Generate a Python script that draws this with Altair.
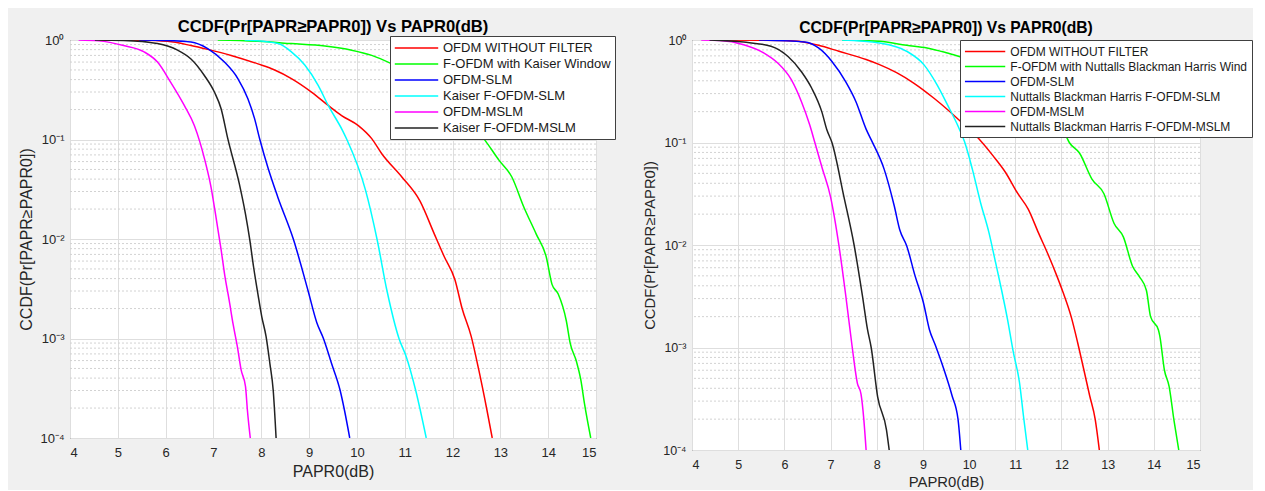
import altair as alt
import pandas as pd

FONT = "Liberation Sans"
TITLE = "CCDF(Pr[PAPR\u2265PAPR0]) Vs PAPR0(dB)"
X_TITLE = "PAPR0(dB)"
Y_TITLE = "CCDF(Pr[PAPR\u2265PAPR0])"

SERIES_K = ["OFDM WITHOUT FILTER", "F-OFDM with Kaiser Window", "OFDM-SLM",
            "Kaiser F-OFDM-SLM", "OFDM-MSLM", "Kaiser F-OFDM-MSLM"]
SERIES_N = ["OFDM WITHOUT FILTER", "F-OFDM with Nuttalls Blackman Harris Wind", "OFDM-SLM",
            "Nuttalls Blackman Harris F-OFDM-SLM", "OFDM-MSLM", "Nuttalls Blackman Harris F-OFDM-MSLM"]
COLORS = ["#ff0000", "#00ff00", "#0000ff", "#00ffff", "#ff00ff", "#222222"]

X_TICKS = [4, 5, 6, 7, 8, 9, 10, 11, 12, 13, 14, 15]
Y_MAJOR = [1e-4, 1e-3, 1e-2, 1e-1, 1]
Y_MINOR = [m * d for d in (1e-4, 1e-3, 1e-2, 1e-1) for m in range(2, 10)]

# ---------------- Kaiser panel (left) ----------------
K_RED_X = [4.6, 5.5, 6.04, 6.53, 6.88, 7.37, 7.93, 8.28, 8.63, 9.05, 9.4, 9.68, 10.03, 10.31,
           10.52, 10.94, 11.32, 11.62, 11.83, 12.05, 12.2, 12.39, 12.55, 12.72, 12.83]
K_RED_Y = [1.0, 0.995, 0.97, 0.88, 0.805, 0.70, 0.575, 0.50, 0.41, 0.30, 0.22, 0.174, 0.138, 0.102,
           0.072, 0.042, 0.024, 0.0112, 0.0066, 0.0039, 0.0020, 0.00105, 0.00048, 0.00019, 0.0001]
K_GREEN_X = [7.09, 7.93, 8.63, 9.33, 9.89, 10.31, 10.73, 11.2, 11.7, 12.2, 12.68, 12.97, 13.24,
             13.49, 13.75, 13.96, 14.08, 14.21, 14.38, 14.46, 14.59, 14.68, 14.76, 14.89]
K_GREEN_Y = [1.0, 0.97, 0.92, 0.87, 0.79, 0.70, 0.575, 0.44, 0.30, 0.18, 0.098, 0.062, 0.042,
             0.021, 0.0112, 0.0066, 0.0035, 0.0028, 0.0015, 0.0009, 0.00059, 0.00039, 0.00022, 0.0001]
K_BLUE_X = [5.44, 6.0, 6.53, 6.88, 7.23, 7.51, 7.72, 7.86, 7.97, 8.14, 8.35, 8.67, 8.98, 9.16,
            9.3, 9.47, 9.65, 9.74, 9.85]
K_BLUE_Y = [1.0, 0.99, 0.955, 0.82, 0.60, 0.41, 0.257, 0.162, 0.1, 0.052, 0.026, 0.01, 0.003,
            0.00145, 0.001, 0.00056, 0.0003, 0.00019, 0.0001]
K_CYAN_X = [7.65, 8.35, 8.63, 8.91, 9.19, 9.4, 9.7, 9.79, 10.18, 10.42, 10.63, 10.88, 11.03,
            11.23, 11.45]
K_CYAN_Y = [1.0, 0.92, 0.76, 0.56, 0.35, 0.22, 0.123, 0.1, 0.031, 0.01, 0.003, 0.001, 0.00066,
            0.0003, 0.0001]
K_MAG_X = [4.18, 4.6, 5.12, 5.55, 5.83, 6.1, 6.39, 6.6, 6.72, 6.82, 6.95, 7.03, 7.16, 7.24,
           7.33, 7.41, 7.5, 7.58, 7.67, 7.71, 7.77]
K_MAG_Y = [1.0, 0.98, 0.88, 0.76, 0.60, 0.38, 0.22, 0.138, 0.093, 0.062, 0.033, 0.0195, 0.0078,
           0.0042, 0.0024, 0.0014, 0.00083, 0.00048, 0.00033, 0.00019, 0.0001]
K_BLK_X = [4.52, 5.12, 5.83, 6.25, 6.53, 6.81, 7.02, 7.16, 7.3, 7.54, 7.67, 7.76, 7.84, 7.93,
           8.01, 8.1, 8.18, 8.25, 8.31]
K_BLK_Y = [1.0, 0.99, 0.92, 0.79, 0.645, 0.44, 0.30, 0.204, 0.102, 0.036, 0.0178, 0.0098,
           0.0052, 0.0028, 0.00166, 0.00105, 0.00056, 0.0003, 0.0001]

# ---------------- Nuttall Blackman Harris panel (right) ----------------
N_RED_X = [4.4, 5.5, 6.22, 6.74, 7.18, 7.77, 8.06, 8.43, 8.8, 9.24, 9.53, 9.9, 10.16, 10.52,
           10.79, 11.05, 11.28, 11.5, 11.72, 11.9, 12.03, 12.21, 12.35, 12.48, 12.61, 12.73, 12.82]
N_RED_Y = [1.0, 0.995, 0.98, 0.887, 0.776, 0.645, 0.575, 0.48, 0.38, 0.27, 0.21, 0.148, 0.115,
           0.074, 0.051, 0.032, 0.0224, 0.0132, 0.0079, 0.005, 0.0035, 0.002, 0.00112, 0.00062,
           0.00034, 0.0002, 0.0001]
N_GREEN_X = [7.25, 8.06, 8.65, 9.09, 9.53, 9.9, 10.5, 11.0, 11.5, 12.03, 12.17, 12.39, 12.66,
             12.92, 13.14, 13.34, 13.54, 13.69, 13.84, 13.93, 14.1, 14.13, 14.23, 14.33, 14.44, 14.54]
N_GREEN_Y = [1.0, 0.97, 0.887, 0.836, 0.746, 0.667, 0.51, 0.37, 0.25, 0.135, 0.1, 0.079, 0.044,
             0.0316, 0.0162, 0.012, 0.0062, 0.0049, 0.0036, 0.002, 0.00148, 0.00129, 0.0006,
             0.00042, 0.00019, 0.0001]
N_BLUE_X = [5.45, 6.44, 6.74, 7.03, 7.33, 7.55, 7.77, 7.9, 8.16, 8.38, 8.5, 8.65, 8.83, 9.01,
            9.14, 9.27, 9.45, 9.63, 9.76, 9.82]
N_BLUE_Y = [1.0, 0.955, 0.836, 0.617, 0.39, 0.25, 0.135, 0.102, 0.055, 0.024, 0.014, 0.0098,
            0.005, 0.00275, 0.0015, 0.00105, 0.00062, 0.00034, 0.0002, 0.0001]
N_CYAN_X = [7.25, 8.06, 8.65, 9.02, 9.31, 9.53, 9.75, 9.9, 10.07, 10.25, 10.43, 10.56, 10.7,
            10.83, 10.96, 11.09, 11.18, 11.27]
N_CYAN_Y = [1.0, 0.933, 0.776, 0.575, 0.363, 0.234, 0.148, 0.102, 0.055, 0.0257, 0.0132,
            0.0072, 0.0037, 0.0019, 0.00089, 0.00046, 0.00021, 0.0001]
N_MAG_X = [4.2, 4.6, 5.12, 5.56, 5.85, 6.15, 6.37, 6.55, 6.66, 6.82, 7.0, 7.18, 7.33, 7.47,
           7.58, 7.66, 7.72, 7.77]
N_MAG_Y = [1.0, 0.99, 0.9, 0.746, 0.60, 0.41, 0.25, 0.148, 0.1, 0.056, 0.0295, 0.01, 0.0032,
           0.001, 0.00045, 0.00035, 0.0002, 0.0001]
N_BLK_X = [4.38, 5.12, 5.71, 6.08, 6.37, 6.59, 6.81, 6.92, 7.03, 7.29, 7.51, 7.69, 7.8, 7.88,
           8.02, 8.21, 8.27]
N_BLK_Y = [1.0, 0.955, 0.87, 0.69, 0.49, 0.34, 0.20, 0.133, 0.1, 0.0295, 0.01, 0.0032, 0.0015,
           0.001, 0.00033, 0.000158, 0.0001]

LABEL_EXPR = ("datum.value >= 0.5 ? '10\u2070' : datum.value >= 0.05 ? '10\u207b\u00b9' : "
              "datum.value >= 0.005 ? '10\u207b\u00b2' : datum.value >= 0.0005 ? '10\u207b\u00b3' : "
              "'10\u207b\u2074'")


def panel(series, xs, ys, width, height, tick_fs, title_fs, head_fs, head_offset,
          leg_x, leg_y, leg_fs, leg_size, leg_sym_off, leg_lab_off, leg_row_pad):
    rows = []
    for name, xv, yv in zip(series, xs, ys):
        for a, b in zip(xv, yv):
            rows.append({"x": a, "y": b, "s": name})
    df = pd.DataFrame(rows)

    xscale = alt.Scale(domain=[4, 15], nice=False)
    yscale = alt.Scale(type="log", domain=[1e-4, 1], nice=False)
    xaxis = alt.Axis(values=X_TICKS, format="d", grid=True, gridColor="#dedede", ticks=False,
                     domain=False, labelFont=FONT, labelFontSize=tick_fs, labelColor="#262626",
                     labelPadding=8, titleFont=FONT, titleFontSize=title_fs,
                     titleFontWeight="normal", titleColor="#262626", titlePadding=4)
    yaxis = alt.Axis(values=Y_MAJOR, labelExpr=LABEL_EXPR, grid=True, gridColor="#dedede",
                     ticks=False, domain=False, labelFont=FONT, labelFontSize=tick_fs,
                     labelColor="#262626", labelPadding=6, titleFont=FONT,
                     titleFontSize=title_fs, titleFontWeight="normal", titleColor="#262626",
                     titlePadding=5)

    minor = alt.Chart(pd.DataFrame({"y": Y_MINOR})).mark_rule(
        color="#d2d2d2", strokeDash=[2, 2], strokeWidth=1
    ).encode(y=alt.Y("y:Q", scale=yscale, axis=yaxis, title=Y_TITLE))

    lines = alt.Chart(df).mark_line(strokeWidth=1.5, clip=True, interpolate="monotone").encode(
        x=alt.X("x:Q", scale=xscale, axis=xaxis, title=X_TITLE),
        y=alt.Y("y:Q", scale=yscale, axis=yaxis, title=Y_TITLE),
        color=alt.Color(
            "s:N",
            scale=alt.Scale(domain=series, range=COLORS),
            sort=series,
            title=None,
            legend=alt.Legend(
                orient="none", legendX=leg_x, legendY=leg_y, direction="vertical",
                fillColor="white", strokeColor="#404040", padding=4,
                labelFont=FONT, labelFontSize=leg_fs, labelColor="#1a1a1a", labelLimit=500,
                symbolType="M-3.1,0H3.1", symbolSize=leg_size, symbolStrokeWidth=1.5,
                symbolOffset=leg_sym_off, labelOffset=leg_lab_off,
                rowPadding=leg_row_pad,
            ),
        ),
    )

    return alt.layer(minor, lines).properties(
        width=width, height=height,
        title=alt.TitleParams(TITLE, font=FONT, fontSize=head_fs, fontWeight="bold",
                              color="black", offset=head_offset, frame="group",
                              anchor="middle"),
    )


left = panel(SERIES_K,
             [K_RED_X, K_GREEN_X, K_BLUE_X, K_CYAN_X, K_MAG_X, K_BLK_X],
             [K_RED_Y, K_GREEN_Y, K_BLUE_Y, K_CYAN_Y, K_MAG_Y, K_BLK_Y],
             526, 398, 13, 16, 16.6, -2, 320, -4, 13, 196, 14.5, 18.5, 1)
right = panel(SERIES_N,
              [N_RED_X, N_GREEN_X, N_BLUE_X, N_CYAN_X, N_MAG_X, N_BLK_X],
              [N_RED_Y, N_GREEN_Y, N_BLUE_Y, N_CYAN_Y, N_MAG_Y, N_BLK_Y],
              508, 410, 12.5, 14.8, 15.7, -3, 268, 0, 12, 169, 13.6, 17.7, 1)

chart = alt.hconcat(left, right, spacing=26).resolve_scale(color="independent").properties(
    background="#f0f0f0",
    padding={"left": 10, "top": 10, "right": 0, "bottom": 0},
).configure_view(fill="white", stroke="#303030", strokeWidth=1)

chart.save("out.html", embed_options={"renderer": "svg", "actions": False})
